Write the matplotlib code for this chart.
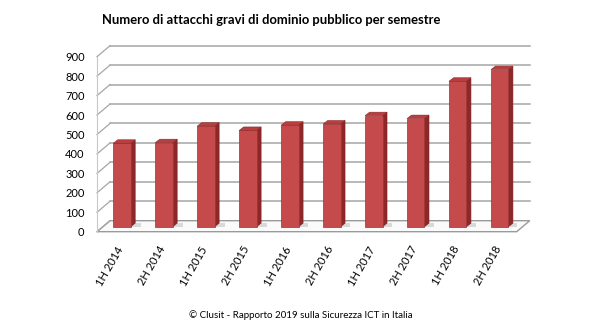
import numpy as np
import matplotlib.pyplot as plt
from matplotlib.patches import Polygon

periods = ['1H 2014', '2H 2014', '1H 2015', '2H 2015', '1H 2016',
           '2H 2016', '1H 2017', '2H 2017', '1H 2018', '2H 2018']
attacks = [429, 432, 517, 495, 522, 528, 571, 556, 748, 808]
y_ticks = list(range(0, 1000, 100))

title = 'Numero di attacchi gravi di dominio pubblico per semestre'
footer = '© Clusit - Rapporto 2019 sulla Sicurezza ICT in Italia'

plt.rcParams['font.family'] = ['Lato', 'DejaVu Sans']

W, H = 590, 330
fig = plt.figure(figsize=(W / 100, H / 100), dpi=100)
ax = fig.add_axes([97 / W, 98.3 / H, 419.7 / W, 175 / H])
n = len(periods)
ax.set_xlim(0, n)
ax.set_ylim(0, 900)
for s in ax.spines.values():
    s.set_visible(False)

# convert pixel offsets (fake 3d depth) into data units
bb = ax.get_window_extent()
def px(dx, dy):
    return dx * n / bb.width, dy * 900 / bb.height

wall_dx, wall_dy = px(13, 11)
bar_dx, bar_dy = px(4, 5)
dep_dx, dep_dy = px(4.5, 3.5)
grid_col = '#A6A6A6'

# floor
floor = Polygon([(0, 0), (n, 0), (n + wall_dx, wall_dy), (wall_dx, wall_dy)],
                closed=True, facecolor='#FAFAFA', edgecolor='#9A9A9A', lw=1,
                clip_on=False, zorder=1)
ax.add_patch(floor)

# back wall gridlines + left wall diagonals
for v in y_ticks:
    if v > 0:
        ax.plot([wall_dx, n + wall_dx], [v + wall_dy] * 2, color=grid_col,
                lw=1.1, clip_on=False, zorder=1)
    ax.plot([0, wall_dx], [v, v + wall_dy], color=grid_col, lw=0.9,
            clip_on=False, zorder=1)
ax.plot([0, 0], [0, 900], color='#C8C8C8', lw=0.8, clip_on=False, zorder=1)

# bars: front faces
bw = 0.415
lefts = np.arange(n) + 0.5 - bw / 2 + bar_dx
ax.bar(lefts, attacks, width=bw, bottom=bar_dy, align='edge',
       color='#C44A4B', edgecolor='#9C3334', lw=0.5, zorder=3)

# side and top faces
for x0, v in zip(lefts, attacks):
    xr = x0 + bw
    top = v + bar_dy
    side = Polygon([(xr, bar_dy), (xr, top), (xr + dep_dx, top + dep_dy),
                    (xr + dep_dx, bar_dy + dep_dy)], closed=True,
                   facecolor='#8E2728', edgecolor='#7A1F20', lw=0.4, zorder=2)
    lid = Polygon([(x0, top), (xr, top), (xr + dep_dx, top + dep_dy),
                   (x0 + dep_dx, top + dep_dy)], closed=True,
                  facecolor='#B93E40', edgecolor='#8E2728', lw=0.4, zorder=4)
    ax.add_patch(side)
    ax.add_patch(lid)
    # soft shadow on the floor
    shadow = Polygon([(xr, bar_dy), (xr + 2.2 * dep_dx, bar_dy),
                      (xr + 2.2 * dep_dx, bar_dy + dep_dy),
                      (xr, bar_dy + dep_dy)], closed=True,
                     facecolor='#D9D9D9', edgecolor='none', zorder=1.5)
    ax.add_patch(shadow)

ax.set_yticks(y_ticks)
ax.set_yticklabels([str(v) for v in y_ticks], fontsize=8)
ax.tick_params(axis='y', length=0, pad=9)

ax.set_xticks(np.arange(n) + 0.57)
ax.set_xticklabels(periods, fontsize=8, rotation=60, ha='right', va='center',
                   rotation_mode='anchor')
ax.tick_params(axis='x', length=0, pad=11)

fig.text(271 / W, 1 - 20 / H, title, ha='center', va='center',
         fontsize=9.4, fontweight='bold')
fig.text(301 / W, 1 - 315.5 / H, footer, ha='center', va='center',
         fontsize=7.0)

fig.savefig('out.png', dpi=100)
